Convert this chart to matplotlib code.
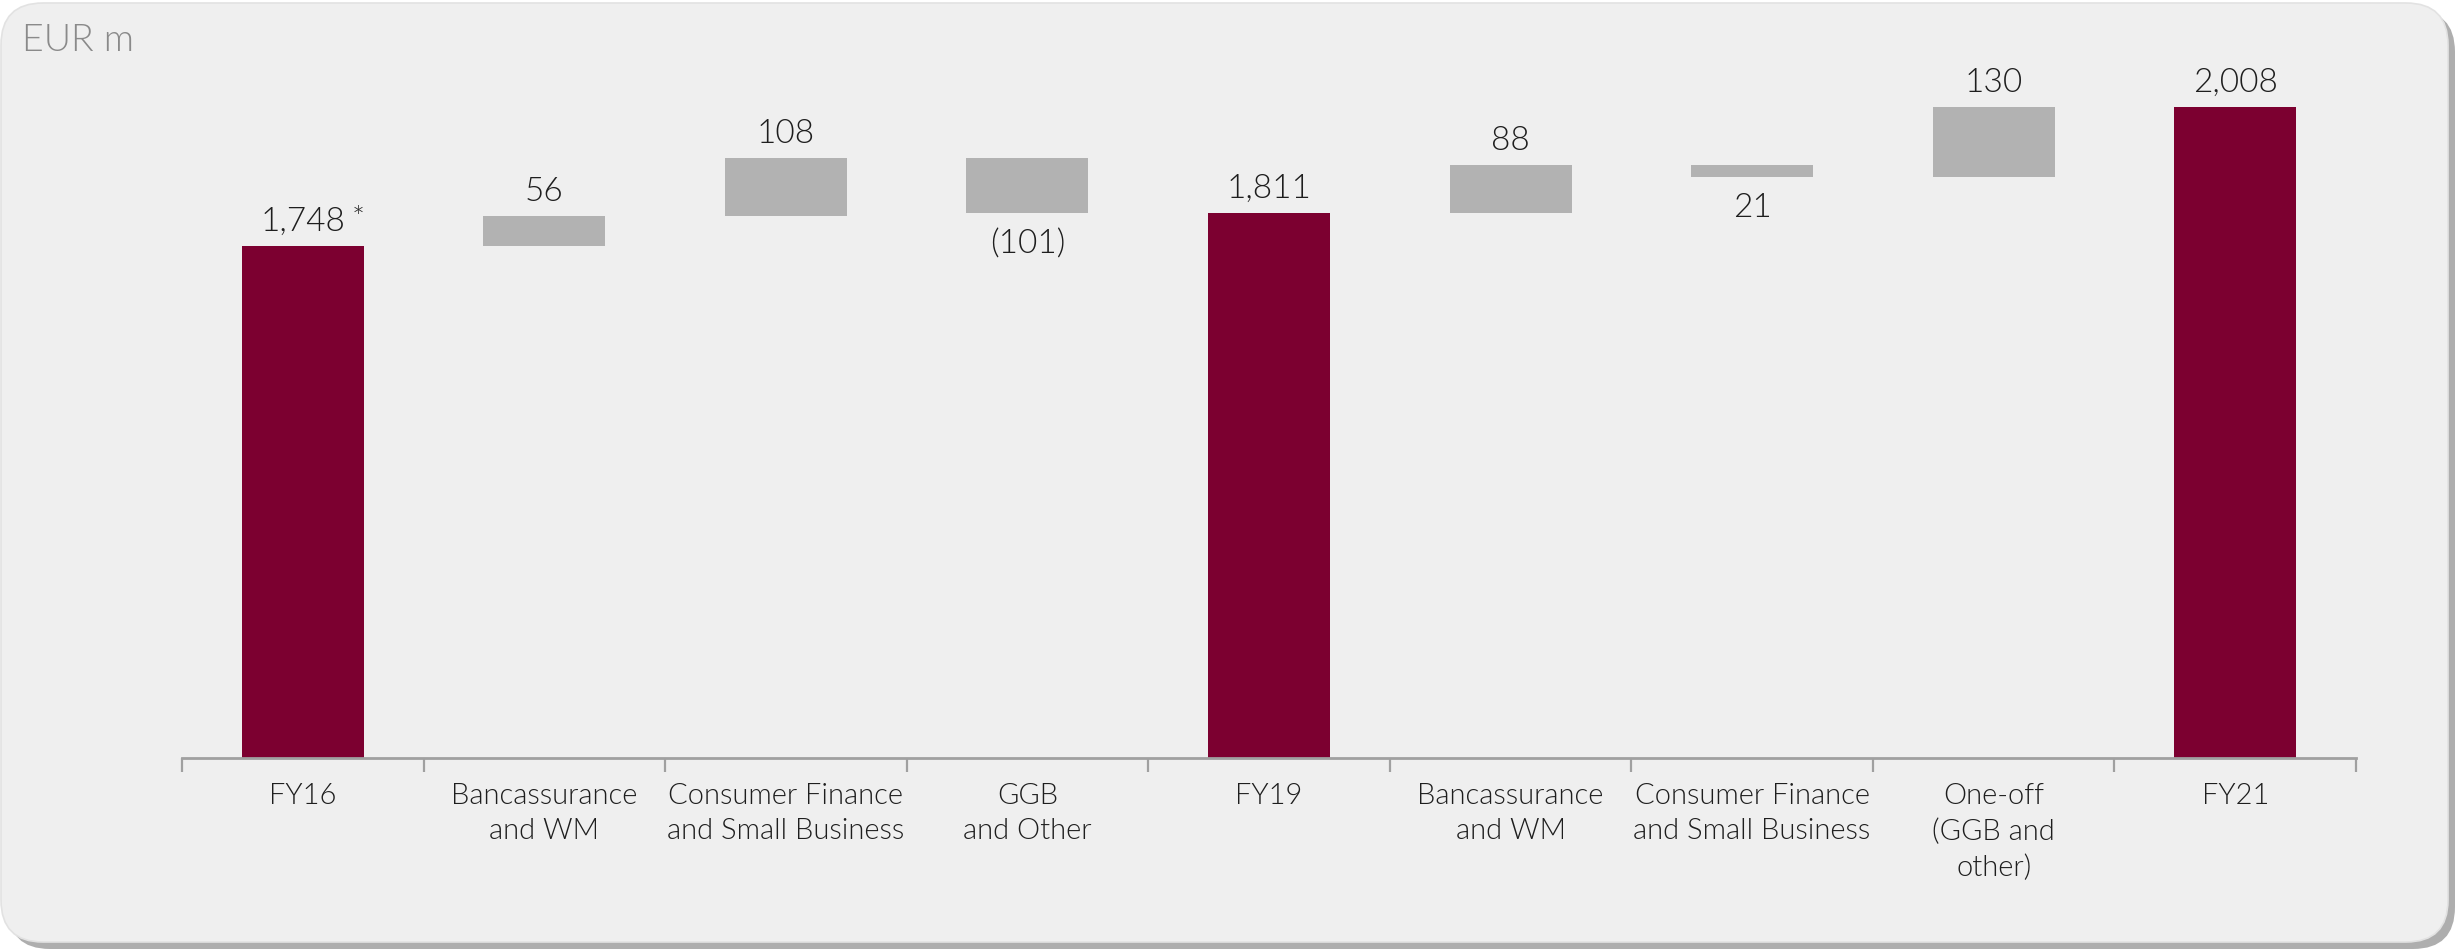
import matplotlib
matplotlib.use("Agg")
import matplotlib.pyplot as plt
from matplotlib.patches import FancyBboxPatch
import numpy as np

plt.rcParams['font.family'] = ['Lato', 'DejaVu Sans']
plt.rcParams['font.weight'] = 300

# ---- data ----
categories = ["FY16", "Bancassurance\nand WM", "Consumer Finance\nand Small Business",
              "GGB\nand Other", "FY19", "Bancassurance\nand WM",
              "Consumer Finance\nand Small Business", "One-off\n(GGB and\nother)", "FY21"]
is_total = [True, False, False, False, True, False, False, False, True]
values = [1748, 56, 108, -101, 1811, 88, -21, 130, 2008]
value_labels = ["1,748", "56", "108", "(101)", "1,811", "88", "21", "130", "2,008"]
unit_label = "EUR m"

RED = "#7c0030"
GREY = "#b2b2b2"
TEXT = "#1e1e1e"

W, H = 2461, 949
fig = plt.figure(figsize=(W / 100, H / 100), dpi=100)
fig.patch.set_facecolor("white")

# background rounded panel (pixel coordinates)
bg = fig.add_axes([0, 0, 1, 1])
bg.set_xlim(0, W)
bg.set_ylim(0, H)
bg.axis("off")
shadow = FancyBboxPatch((8, 0), W - 14, H - 10, boxstyle="round,pad=0,rounding_size=42",
                        facecolor="#9a9a9a", edgecolor="none", alpha=0.8)
bg.add_patch(shadow)
panel = FancyBboxPatch((1, 7), W - 14, H - 10, boxstyle="round,pad=0,rounding_size=42",
                       facecolor="#efefef", edgecolor="#e2e2e2", linewidth=1.2)
bg.add_patch(panel)
bg.text(22, H - 51, unit_label, fontsize=27, color="#8a8a8a", va="baseline", ha="left",
        fontweight=300)

ax = fig.add_axes([182 / W, (H - 758) / H, (2356 - 182) / W, (758 - 60) / H])
ax.set_facecolor("none")

x = np.arange(len(categories))
bottoms, heights, colors = [], [], []
running = 0
for v, tot in zip(values, is_total):
    if tot:
        bottoms.append(0)
        heights.append(v)
        colors.append(RED)
        running = v
    else:
        bottoms.append(running)
        heights.append(v)
        colors.append(GREY)
        running += v

ax.bar(x, heights, bottom=bottoms, width=0.505, color=colors, edgecolor="none", zorder=2)

ymin = 796
ax.set_ylim(ymin, ymin + (758 - 60) / 0.5373)
ax.set_xlim(-0.5, len(categories) - 0.5)

for xi, b, h, lab, tot in zip(x, bottoms, heights, value_labels, is_total):
    top = b + h if h >= 0 else b
    low = b if h >= 0 else b + h
    if h >= 0:
        ax.annotate(lab, (xi, top), xytext=(0, 11), textcoords="offset points",
                    ha="center", va="baseline", fontsize=24, color=TEXT, fontweight=300)
    else:
        ax.annotate(lab, (xi, low), xytext=(0, -12), textcoords="offset points",
                    ha="center", va="top", fontsize=24, color=TEXT, fontweight=300)

# asterisk on FY16
ax.annotate("*", (x[0], bottoms[0] + heights[0]), xytext=(35, 13), textcoords="offset points",
            ha="left", va="baseline", fontsize=22, color=TEXT, fontweight=300)

for s in ["top", "right", "left"]:
    ax.spines[s].set_visible(False)
ax.spines["bottom"].set_color("#a0a0a0")
ax.spines["bottom"].set_linewidth(2)
ax.set_yticks([])
ax.set_xticks(x)
ax.set_xticklabels(categories, fontsize=21, color=TEXT, linespacing=1.43, fontweight=300)
ax.tick_params(axis="x", which="major", length=0, pad=18)
ax.set_xticks(np.arange(-0.5, len(categories), 1.0), minor=True)
ax.tick_params(axis="x", which="minor", length=10, width=1.6, color="#a0a0a0", direction="out")

fig.savefig("out.png", dpi=100, facecolor=fig.get_facecolor())
